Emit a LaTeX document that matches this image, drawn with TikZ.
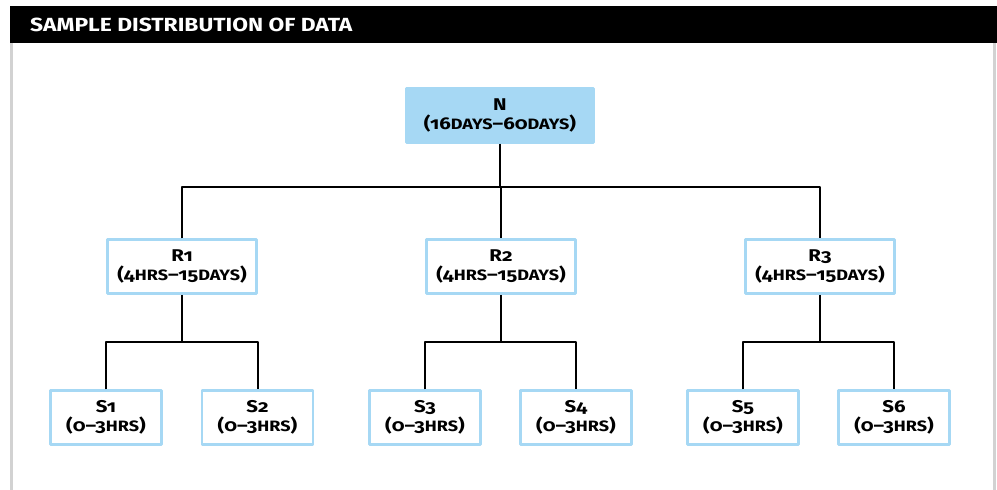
\documentclass[tikz,border=0pt]{standalone}
\usepackage{fontspec}
\setmainfont{Fira Sans}[Numbers=OldStyle,FakeStretch=1.2]
\definecolor{boxblue}{HTML}{A6D8F4}
\definecolor{sidegray}{HTML}{D2D2D2}
\newcommand\unitsc[1]{{\fontsize{15bp}{19.5bp}\selectfont #1}}
\tikzset{
  leaf/.style={draw=boxblue,line width=2.5bp,fill=white,minimum width=111bp,minimum height=54bp,align=center,inner sep=0pt,font=\bfseries\fontsize{17bp}{19.5bp}\selectfont},
  mid/.style={leaf,minimum width=149bp},
  root/.style={leaf,fill=boxblue,minimum width=187bp},
  link/.style={black,line width=2bp},
}
\begin{document}
\begin{tikzpicture}[>=latex,line join=bevel,x=1bp,y=-1bp]
\useasboundingbox (0,0) rectangle (997,490);
%% frame and title bar
\fill [sidegray] (10,43) rectangle (13,490);
\fill [sidegray] (993,43) rectangle (996,490);
\fill [black] (10,6) rectangle (997,43);
\node (title) at (30bp,-25bp) [anchor=west,inner sep=0pt,text=white,font=\bfseries\fontsize{19bp}{20bp}\selectfont] {SAMPLE DISTRIBUTION OF DATA};
%%
\node (node_0) at (500bp,-115.5bp) [root] {N\\(16\unitsc{DAYS}–60\unitsc{DAYS})};
  \node (node_1) at (182bp,-266.5bp) [mid] {R1\\(4\unitsc{HRS}–15\unitsc{DAYS})};
  \node (node_2) at (501bp,-266.5bp) [mid] {R2\\(4\unitsc{HRS}–15\unitsc{DAYS})};
  \node (node_3) at (820bp,-266.5bp) [mid] {R3\\(4\unitsc{HRS}–15\unitsc{DAYS})};
  \node (node_4) at (106bp,-417.5bp) [leaf] {S1\\(0–3\unitsc{HRS})};
  \node (node_5) at (257.5bp,-417.5bp) [leaf] {S2\\(0–3\unitsc{HRS})};
  \node (node_6) at (425bp,-417.5bp) [leaf] {S3\\(0–3\unitsc{HRS})};
  \node (node_7) at (576bp,-417.5bp) [leaf] {S4\\(0–3\unitsc{HRS})};
  \node (node_8) at (743bp,-417.5bp) [leaf] {S5\\(0–3\unitsc{HRS})};
  \node (node_9) at (894bp,-417.5bp) [leaf] {S6\\(0–3\unitsc{HRS})};
%
  \coordinate (fork_0) at (500bp,-187bp);
  \coordinate (fork_1) at (182bp,-342bp);
  \coordinate (fork_2) at (501bp,-342bp);
  \coordinate (fork_3) at (820bp,-342bp);
  \draw [link] (node_0.south) -- (fork_0);
  \draw [link] (node_1.north) |- (fork_0) -| (node_3.north);
  \draw [link] (fork_0 -| node_2.north) -- (node_2.north);
  \draw [link] (node_4.north) |- (fork_1) -| (node_5.north);
  \draw [link] (node_1.south) -- (fork_1);
  \draw [link] (node_6.north) |- (fork_2) -| (node_7.north);
  \draw [link] (node_2.south) -- (fork_2);
  \draw [link] (node_8.north) |- (fork_3) -| (node_9.north);
  \draw [link] (node_3.south) -- (fork_3);
%
\end{tikzpicture}
\end{document}
